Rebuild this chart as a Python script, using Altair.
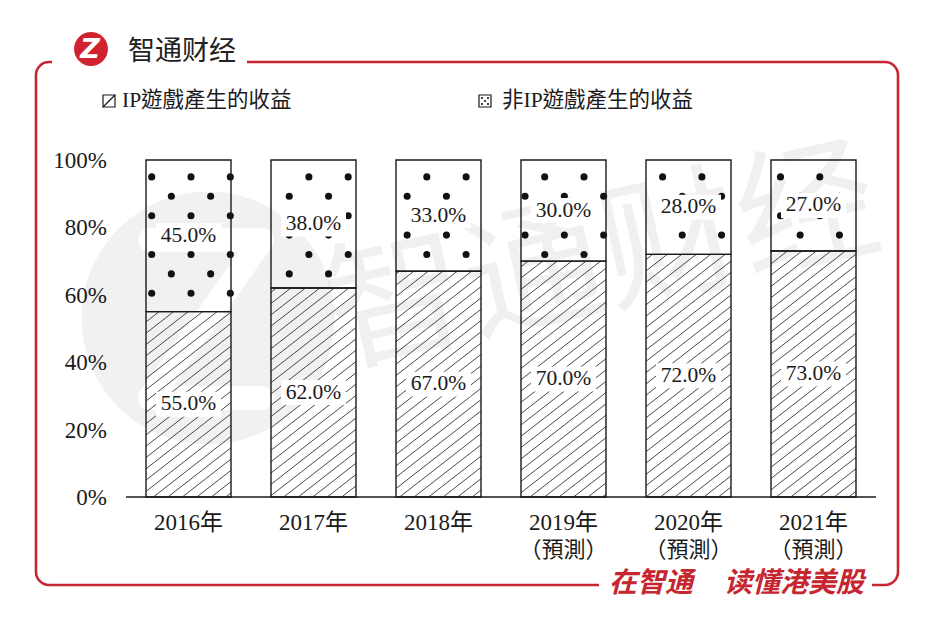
import math
import altair as alt
import pandas as pd

# ---------------- data ----------------
years = ["2016年", "2017年", "2018年", "2019年", "2020年", "2021年"]
notes = ["", "", "", "（預測）", "（預測）", "（預測）"]
ip_share = [55, 62, 67, 70, 72, 73]
non_ip_share = [45, 38, 33, 30, 28, 27]
legend_labels = ["IP遊戲產生的收益", "非IP遊戲產生的收益"]
y_ticks = [0, 20, 40, 60, 80, 100]

# ---------------- geometry / style ----------------
W, H = 750, 337
X0, Y0 = 126, 160            # page position of the plot origin
XDOM = [-0.5, 5.5]
PX_X = W / 6.0
PX_Y = H / 100.0
HALF_BAR = 0.34
RED = "#c62630"
INK = "#1a1a1a"
SERIF = "Liberation Serif, Noto Sans CJK TC"
SANS = "Noto Sans CJK SC"


def to_px_x(v):
    return X0 + (v - XDOM[0]) * PX_X


def to_px_y(v):
    return Y0 + H - v * PX_Y


def from_px_x(p):
    return (p - X0) / PX_X + XDOM[0]


def from_px_y(p):
    return (Y0 + H - p) / PX_Y


# bars
bars = []
for i, (a, b) in enumerate(zip(ip_share, non_ip_share)):
    bars.append(dict(x=i - HALF_BAR, x2=i + HALF_BAR, y=0, y2=a))
    bars.append(dict(x=i - HALF_BAR, x2=i + HALF_BAR, y=a, y2=a + b))
bars_df = pd.DataFrame(bars)

# hatch pattern ("/" lines) clipped to the IP segments
SLOPE, DC, C_REF = 0.78, 11.3, 752.2
hatch = []
for i, a in enumerate(ip_share):
    xl, xr = to_px_x(i - HALF_BAR), to_px_x(i + HALF_BAR)
    yt, yb = to_px_y(a), to_px_y(0)
    cmin, cmax = yt + SLOPE * xl, yb + SLOPE * xr
    for k in range(math.ceil((cmin - C_REF) / DC), math.floor((cmax - C_REF) / DC) + 1):
        c = C_REF + k * DC
        x1 = max(xl, (c - yb) / SLOPE)
        x2 = min(xr, (c - yt) / SLOPE)
        if x2 - x1 < 0.6:
            continue
        hatch.append(dict(x=from_px_x(x1), x2=from_px_x(x2),
                          y=from_px_y(c - SLOPE * x1), y2=from_px_y(c - SLOPE * x2)))
hatch_df = pd.DataFrame(hatch)

# dot pattern in the non-IP segments
DY, YFIRST, DX, XA = 19.4, 157.5, 39.3, 151.7
dots = []
for i, a in enumerate(ip_share):
    xl, xr = to_px_x(i - HALF_BAR), to_px_x(i + HALF_BAR)
    yt, yb = to_px_y(100), to_px_y(a)
    for k in range(0, 30):
        yy = YFIRST + k * DY
        if not (yt + 0.5 < yy < yb - 0.5):
            continue
        x0 = XA if k % 2 else XA + DX / 2
        for m in range(math.ceil((xl - x0) / DX), math.floor((xr - x0) / DX) + 1):
            xx = x0 + m * DX
            if xl < xx < xr:
                dots.append(dict(x=from_px_x(xx), y=from_px_y(yy)))
dots_df = pd.DataFrame(dots)

# value labels
labels = []
for i, (a, b) in enumerate(zip(ip_share, non_ip_share)):
    labels.append(dict(x=i, mid=a / 2, text=f"{a:.1f}%"))
    labels.append(dict(x=i, mid=a + b / 2, text=f"{b:.1f}%"))
labels_df = pd.DataFrame(labels)
labels_df["bx"] = labels_df["x"] - 0.26
labels_df["bx2"] = labels_df["x"] + 0.26
labels_df["by"] = labels_df["mid"] - 3.7
labels_df["by2"] = labels_df["mid"] + 3.7

cats_df = pd.DataFrame({"x": list(range(len(years))), "year": years, "note": notes})
ticks_df = pd.DataFrame({"v": y_ticks, "label": [f"{v}%" for v in y_ticks]})

xs = alt.Scale(domain=XDOM, nice=False, zero=False)
ys = alt.Scale(domain=[0, 100], nice=False, zero=True)

one = pd.DataFrame({"k": [0]})


def px(vx):
    return alt.value(vx - X0)


def py(vy):
    return alt.value(vy - Y0)


layers = []

# ---------------- watermark ----------------
layers.append(alt.Chart(one).mark_circle(color="#000000", opacity=0.055, size=64000).encode(
    x=px(208), y=py(318)))
for (ax, ay, bx, by) in [(150, 240, 262, 240), (262, 240, 150, 398), (150, 398, 262, 398)]:
    layers.append(alt.Chart(one).mark_rule(color="white", strokeWidth=24, strokeCap="round").encode(
        x=px(ax), y=py(ay), x2=px(bx), y2=py(by)))
layers.append(alt.Chart(one).mark_text(text="智通财经", font=SANS, fontSize=140, color="#000000",
                                       opacity=0.055, angle=347.5, align="center",
                                       baseline="middle").encode(x=px(603), y=py(262)))

# ---------------- frame ----------------
layers.append(alt.Chart(one).mark_rect(filled=False, color=RED, stroke=RED, strokeWidth=2.6,
                                       cornerRadius=13).encode(
    x=px(36), x2=px(898), y=py(62), y2=py(585)))
layers.append(alt.Chart(one).mark_rect(color="white").encode(x=px(52), x2=px(247), y=py(56), y2=py(69)))
layers.append(alt.Chart(one).mark_rect(color="white").encode(x=px(599), x2=px(872), y=py(578), y2=py(592)))

# logo
layers.append(alt.Chart(one).mark_circle(color="#d1232f", opacity=1, size=1150).encode(x=px(91), y=py(49)))
layers.append(alt.Chart(one).mark_text(text="Z", font="DejaVu Sans", fontSize=27, fontWeight="bold",
                                       fontStyle="italic", color="white", align="center",
                                       baseline="middle").encode(x=px(90), y=py(50)))
layers.append(alt.Chart(one).mark_text(text="智通财经", font=SANS, fontSize=27, color="#222222",
                                       align="left", baseline="middle").encode(x=px(128), y=py(52)))

# slogan
layers.append(alt.Chart(one).mark_text(text="在智通", font=SANS, fontSize=28, fontWeight="bold",
                                       fontStyle="italic", color=RED, align="center",
                                       baseline="middle").encode(x=px(651), y=py(584)))
layers.append(alt.Chart(one).mark_text(text="读懂港美股", font=SANS, fontSize=28, fontWeight="bold",
                                       fontStyle="italic", color=RED, align="center",
                                       baseline="middle").encode(x=px(794), y=py(584)))

# ---------------- legend ----------------
layers.append(alt.Chart(one).mark_rect(filled=False, color=INK, stroke=INK, strokeWidth=1.2).encode(
    x=px(103), x2=px(115), y=py(95), y2=py(107)))
layers.append(alt.Chart(one).mark_rule(color=INK, strokeWidth=1.2).encode(
    x=px(103), x2=px(115), y=py(107), y2=py(95)))
layers.append(alt.Chart(one).mark_text(text=legend_labels[0], font=SERIF, fontSize=21.5, color=INK,
                                       align="left", baseline="middle").encode(x=px(122), y=py(101)))
layers.append(alt.Chart(one).mark_rect(filled=False, color=INK, stroke=INK, strokeWidth=1.2).encode(
    x=px(479), x2=px(491), y=py(95), y2=py(107)))
for ox, oy in [(-3, -3), (3, -3), (0, 0), (-3, 3), (3, 3)]:
    layers.append(alt.Chart(one).mark_circle(color=INK, opacity=1, size=5).encode(
        x=px(485 + ox), y=py(101 + oy)))
layers.append(alt.Chart(one).mark_text(text=legend_labels[1], font=SERIF, fontSize=21.5, color=INK,
                                       align="left", baseline="middle").encode(x=px(502), y=py(101)))

# ---------------- data marks ----------------
layers.append(alt.Chart(hatch_df).mark_rule(color="#333333", strokeWidth=0.9).encode(
    x=alt.X("x:Q", scale=xs, axis=None), x2="x2:Q",
    y=alt.Y("y:Q", scale=ys, axis=None), y2="y2:Q"))

layers.append(alt.Chart(dots_df).mark_circle(color="#111111", opacity=1, size=50).encode(
    x=alt.X("x:Q", scale=xs, axis=None), y=alt.Y("y:Q", scale=ys, axis=None)))

layers.append(alt.Chart(labels_df).mark_rect(color="white").encode(
    x=alt.X("bx:Q", scale=xs, axis=None), x2="bx2:Q",
    y=alt.Y("by:Q", scale=ys, axis=None), y2="by2:Q"))

layers.append(alt.Chart(bars_df).mark_rect(filled=False, color=INK, stroke=INK, strokeWidth=1.4).encode(
    x=alt.X("x:Q", scale=xs, axis=None), x2="x2:Q",
    y=alt.Y("y:Q", scale=ys, axis=None), y2="y2:Q"))

# baseline (x-axis domain)
layers.append(alt.Chart(one).mark_rule(color=INK, strokeWidth=1.4).encode(
    x=alt.X(datum=XDOM[0], scale=xs, axis=None), x2=alt.X2(datum=XDOM[1]),
    y=alt.Y(datum=0, scale=ys, axis=None)))

# y tick labels
layers.append(alt.Chart(ticks_df).mark_text(font=SERIF, fontSize=23, color=INK, align="right",
                                            baseline="middle", dy=1).encode(
    x=px(107), y=alt.Y("v:Q", scale=ys, axis=None), text="label:N"))

layers.append(alt.Chart(labels_df).mark_text(font=SERIF, fontSize=21.5, color=INK, align="center",
                                             baseline="middle").encode(
    x=alt.X("x:Q", scale=xs, axis=None), y=alt.Y("mid:Q", scale=ys, axis=None), text="text:N"))

layers.append(alt.Chart(cats_df).mark_text(font=SERIF, fontSize=23, color=INK, align="center",
                                           baseline="middle").encode(
    x=alt.X("x:Q", scale=xs, axis=None), y=py(523), text="year:N"))
layers.append(alt.Chart(cats_df).mark_text(font=SERIF, fontSize=22, color=INK, align="center",
                                           baseline="middle").encode(
    x=alt.X("x:Q", scale=xs, axis=None), y=py(550), text="note:N"))

chart = alt.layer(*layers).properties(
    width=W, height=H,
    autosize=alt.AutoSizeParams(type="none"),
    padding={"left": 118, "top": 152, "right": 40, "bottom": 126},
    background="white",
).configure_view(strokeWidth=0)

chart.save("out.html", embed_options={"renderer": "svg", "actions": False})
